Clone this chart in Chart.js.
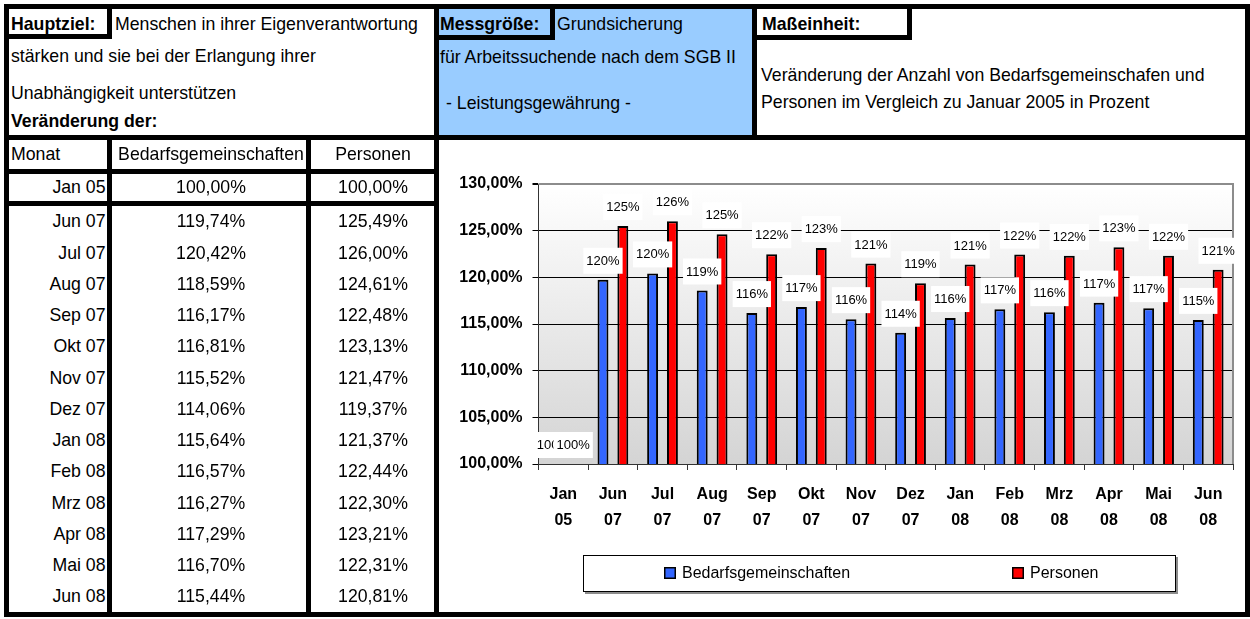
<!DOCTYPE html>
<html><head><meta charset="utf-8">
<script src="https://cdn.jsdelivr.net/npm/chart.js@4.4.1/dist/chart.umd.min.js"></script>
<style>
html,body{margin:0;padding:0;background:#fff;}
#page{position:relative;width:1250px;height:619px;overflow:hidden;font-family:"Liberation Sans",Arial,sans-serif;background:#fff;}
.b{position:absolute;background:#000;}
.t{position:absolute;white-space:nowrap;font-size:17.7px;line-height:1;color:#000;}
#wrap{position:absolute;left:439px;top:140px;width:806px;height:471px;}
</style></head><body><div id="page">
<div id="wrap"><canvas id="c" width="806" height="471"></canvas></div>
</div>
<script>
// ---- data ----
const months = ["Jan 05","Jun 07","Jul 07","Aug 07","Sep 07","Okt 07","Nov 07","Dez 07","Jan 08","Feb 08","Mrz 08","Apr 08","Mai 08","Jun 08"];
const bedarfsgemeinschaften = [100.00,119.74,120.42,118.59,116.17,116.81,115.52,114.06,115.64,116.57,116.27,117.29,116.70,115.44];
const personen = [100.00,125.49,126.00,124.61,122.48,123.13,121.47,119.37,121.37,122.44,122.30,123.21,122.31,120.81];
const yTickValues = [100,105,110,115,120,125,130];
const seriesNames = ["Bedarfsgemeinschaften","Personen"];

const FONT = '"Liberation Sans", Arial, sans-serif';
const page = document.getElementById('page');
function box(x,y,w,h,color){
  const d=document.createElement('div'); d.className='b';
  d.style.left=x+'px'; d.style.top=y+'px'; d.style.width=w+'px'; d.style.height=h+'px';
  if(color) d.style.background=color;
  page.appendChild(d);
}
function txt(s,x,base,o){
  o=o||{};
  const d=document.createElement('div'); d.className='t'; d.textContent=s;
  const size=o.size||17.7;
  d.style.fontSize=size+'px';
  if(o.bold) d.style.fontWeight='bold';
  d.style.top=(base-0.8465*size)+'px';
  if(o.align==='center'){d.style.left=(x-200)+'px';d.style.width='400px';d.style.textAlign='center';}
  else if(o.align==='right'){d.style.left=(x-400)+'px';d.style.width='400px';d.style.textAlign='right';}
  else d.style.left=x+'px';
  page.appendChild(d);
}
const pct = v => v.toFixed(2).replace('.',',')+'%';

// fills
box(439,9,313,126,'#99ccff');
// frame and lines
box(4,4,1246,5); box(4,4,5,613); box(1245,4,5,613); box(4,612,1246,5);
box(4,135,1246,5);
box(434,4,5,613);
box(752,4,5,136);
box(107,4,5,35); box(4,34,108,5);
box(550,4,5,36); box(439,35,116,5);
box(907,4,5,36); box(757,35,155,5);
box(4,169,435,5); box(4,201,435,5);
box(107,140,5,472); box(306,140,5,472);

// header texts
txt('Hauptziel:',11,31,{bold:true});
txt('Menschen in ihrer Eigenverantwortung',115,31);
txt('stärken und sie bei der Erlangung ihrer',11,63);
txt('Unabhängigkeit unterstützen',11,100);
txt('Veränderung der:',11,128,{bold:true});
txt('Messgröße:',440,31,{bold:true});
txt('Grundsicherung',557,31);
txt('für Arbeitssuchende nach dem SGB II',440,64);
txt('- Leistungsgewährung -',446,110);
txt('Maßeinheit:',762,31,{bold:true});
txt('Veränderung der Anzahl von Bedarfsgemeinschafen und',761,82);
txt('Personen im Vergleich zu Januar 2005 in Prozent',761,109);
// table
txt('Monat',11,161);
txt(seriesNames[0],211,161,{align:'center'});
txt(seriesNames[1],373,161,{align:'center'});
months.forEach((m,i)=>{
  const base = i===0 ? 194 : 228.3 + (i-1)*31.25;
  txt(m,105.5,base,{align:'right'});
  txt(pct(bedarfsgemeinschaften[i]),211,base,{align:'center'});
  txt(pct(personen[i]),373,base,{align:'center'});
});

// ---- chart ----
const plotBg = {
  id:'plotBg',
  beforeDraw(chart){
    const {ctx, chartArea:a} = chart;
    const g = ctx.createLinearGradient(0,a.top,0,a.bottom);
    g.addColorStop(0,'#ffffff'); g.addColorStop(1,'#d4d4d4');
    ctx.save(); ctx.fillStyle=g; ctx.fillRect(a.left,a.top,a.right-a.left,a.bottom-a.top); ctx.restore();
  },
  beforeDatasetsDraw(chart){
    const {ctx, chartArea:a} = chart;
    ctx.save(); ctx.strokeStyle='#8c8c8c'; ctx.lineWidth=2;
    ctx.beginPath(); ctx.moveTo(a.left,a.top); ctx.lineTo(a.right,a.top); ctx.lineTo(a.right,a.bottom); ctx.stroke(); ctx.restore();
  }
};
const valueLabels = {
  id:'valueLabels',
  afterDatasetsDraw(chart){
    const ctx=chart.ctx; ctx.save();
    ctx.font='13px '+FONT; ctx.textAlign='center'; ctx.textBaseline='middle';
    chart.data.datasets.forEach((ds,di)=>{
      chart.getDatasetMeta(di).data.forEach((bar,i)=>{
        const t=Math.round(ds.data[i])+'%';
        const w=ctx.measureText(t).width+6, h=26, cx=bar.x, cy=bar.y-19;
        ctx.fillStyle='#fff'; ctx.fillRect(cx-w/2,cy-h/2,w,h);
        ctx.fillStyle='#000'; ctx.fillText(t,cx,cy+0.5);
      });
    });
    ctx.restore();
  }
};
const boxLegend = {
  id:'boxLegend',
  afterDraw(chart){
    const ctx=chart.ctx; ctx.save();
    const x=144, y=415, w=593, h=37;
    ctx.fillStyle='#8c8c8c'; ctx.fillRect(x+2,y+2,w,h);
    ctx.fillStyle='#fff'; ctx.fillRect(x,y,w,h);
    ctx.strokeStyle='#000'; ctx.lineWidth=1; ctx.strokeRect(x+0.5,y+0.5,w-1,h-1);
    const pos=[225,573];
    ctx.font='16px '+FONT; ctx.textBaseline='middle'; ctx.textAlign='left';
    chart.data.datasets.forEach((ds,i)=>{
      const sx=pos[i];
      ctx.fillStyle='#000'; ctx.fillRect(sx,427,12,12);
      ctx.fillStyle=ds.backgroundColor; ctx.fillRect(sx+1.5,428.5,9,9);
      ctx.fillStyle='#000'; ctx.fillText(ds.label,sx+18,433.5);
    });
    ctx.restore();
  }
};

Chart.defaults.font.family = FONT;
Chart.defaults.color = '#000';
new Chart(document.getElementById('c'), {
  type:'bar',
  data:{
    labels: months.map(m=>m.split(' ')),
    datasets:[
      {label:seriesNames[0], data:bedarfsgemeinschaften, backgroundColor:'#3366ff', borderColor:'#000', borderWidth:2, categoryPercentage:0.8, barPercentage:0.55},
      {label:seriesNames[1], data:personen, backgroundColor:'#ff0000', borderColor:'#000', borderWidth:2, categoryPercentage:0.8, barPercentage:0.55}
    ]
  },
  options:{
    responsive:false, animation:false, devicePixelRatio:1,
    layout:{padding:{top:44,right:12,left:0,bottom:0}},
    plugins:{legend:{display:false}, tooltip:{enabled:false}},
    scales:{
      x:{
        grid:{display:true, drawOnChartArea:false, drawTicks:true, tickLength:6, color:'#333'},
        border:{display:true, color:'#333', width:1},
        ticks:{font:{size:16, weight:'bold', lineHeight:'26px'}, padding:12, maxRotation:0, autoSkip:false, color:'#000'},
        afterFit(s){ s.height=147; }
      },
      y:{
        min:100, max:130,
        afterBuildTicks(s){ s.ticks = yTickValues.map(v=>({value:v})); },
        grid:{
          color:c=> c.tick && c.tick.value===130 ? '#8c8c8c' : '#000',
          lineWidth:c=> c.tick && c.tick.value===130 ? 2 : 1,
          tickColor:'#000', tickLength:6, drawTicks:true
        },
        border:{display:true, color:'#333', width:1},
        ticks:{font:{size:16, weight:'bold'}, padding:10, color:'#000', callback:v=>pct(v)},
        afterFit(s){ s.width=99.5; }
      }
    }
  },
  plugins:[plotBg, valueLabels, boxLegend]
});
</script>
</body></html>
